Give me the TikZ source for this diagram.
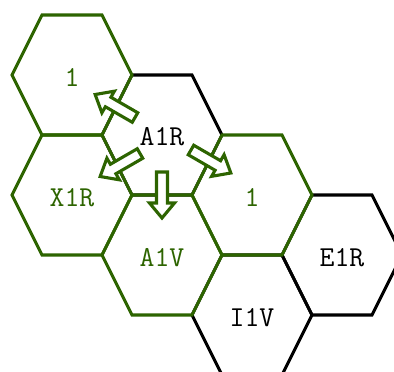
\documentclass[tikz,border=0pt]{standalone}
\usepackage{fontspec}
\definecolor{hexgreen}{RGB}{45,100,0}
\tikzset{
  hexline/.style={line width=3.1bp, line join=miter},
  hex/.pic={\draw[hexline] (-60,0) -- (-30,-60) -- (30,-60) -- (60,0) -- (30,60) -- (-30,60) -- cycle;},
  blockarrow/.pic={\draw[hexline, fill=white] (0,-5.5) -- (31,-5.5) -- (31,-12.5) -- (46,0) -- (31,12.5) -- (31,5.5) -- (0,5.5) -- cycle;},
  lab/.style={font=\fontsize{29}{32}\selectfont\ttfamily, inner sep=0pt}
}
\begin{document}
\begin{tikzpicture}[x=1bp, y=-1bp]
\clip (0,0) rectangle (394,372);
% black hexes
\pic[black] at (162,135) {hex};
\pic[black] at (342,255) {hex};
\pic[black] at (252,315) {hex};
% green hexes
\pic[hexgreen] at (72,75) {hex};
\pic[hexgreen] at (72,195) {hex};
\pic[hexgreen] at (252,195) {hex};
\pic[hexgreen] at (162,255) {hex};
% arrows
\pic[hexgreen, rotate=150] at (135,117.5) {blockarrow};
\pic[hexgreen, rotate=210] at (140,153.5) {blockarrow};
\pic[hexgreen, rotate=270] at (162,172) {blockarrow};
\pic[hexgreen, rotate=330] at (191,150) {blockarrow};
% labels
\node[lab, text=hexgreen] (one1) at (72,77.5) {1};
\node[lab, text=black] (a1r) at (162,136.5) {A1R};
\node[lab, text=hexgreen] (x1r) at (72,197.5) {X1R};
\node[lab, text=hexgreen] (one2) at (252,197.5) {1};
\node[lab, text=hexgreen] (a1v) at (162,257.5) {A1V};
\node[lab, text=black] (e1r) at (342,257.5) {E1R};
\node[lab, text=black] (i1v) at (252,317.5) {I1V};
\end{tikzpicture}
\end{document}
